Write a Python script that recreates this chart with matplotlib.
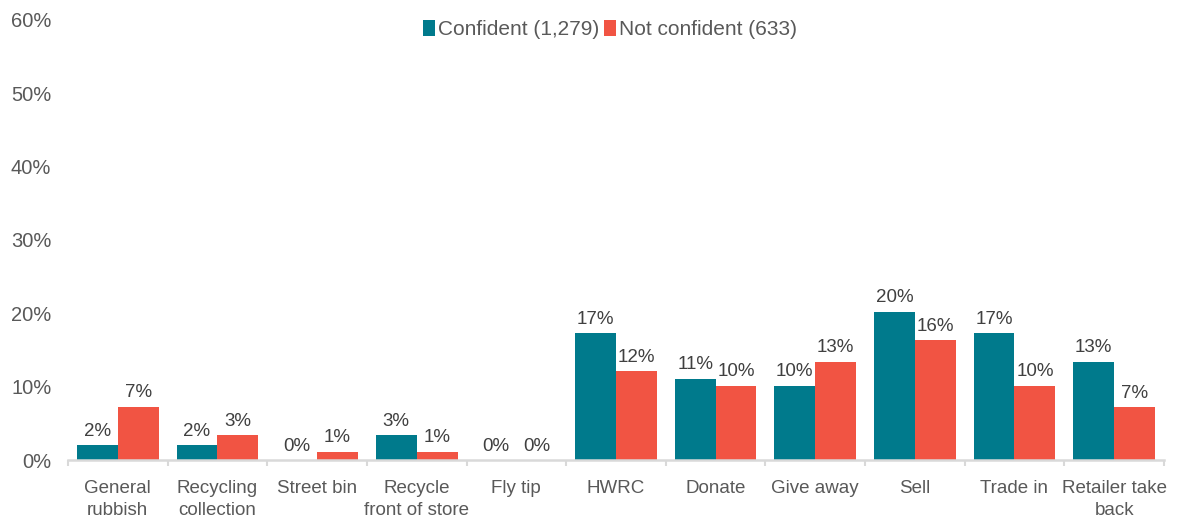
import numpy as np
import matplotlib
matplotlib.use("Agg")
import matplotlib.pyplot as plt

# --- Data ---
categories = [
    "General\nrubbish", "Recycling\ncollection", "Street bin",
    "Recycle\nfront of store", "Fly tip", "HWRC", "Donate",
    "Give away", "Sell", "Trade in", "Retailer take\nback",
]
confident = [2.0, 2.0, 0.0, 3.4, 0.0, 17.3, 11.1, 10.1, 20.2, 17.3, 13.4]
not_confident = [7.3, 3.4, 1.1, 1.1, 0.0, 12.1, 10.1, 13.4, 16.3, 10.1, 7.2]
series_names = ["Confident (1,279)", "Not confident (633)"]
y_ticks = [0, 10, 20, 30, 40, 50, 60]

# --- Style ---
TEAL = "#007A8C"
CORAL = "#F15443"
AXIS_GREY = "#D9D9D9"
TICK_TEXT = "#595959"
LABEL_TEXT = "#404040"
plt.rcParams["font.family"] = ["Liberation Sans", "DejaVu Sans"]

fig = plt.figure(figsize=(11.8, 5.24), dpi=100)
ax = fig.add_axes([0.0576, 0.122, 0.9288, 0.84])

x = np.arange(len(categories))
w = 0.41
b1 = ax.bar(x - w / 2, confident, w, color=TEAL, label=series_names[0])
b2 = ax.bar(x + w / 2, not_confident, w, color=CORAL, label=series_names[1])

# data labels
for bars, vals in ((b1, confident), (b2, not_confident)):
    for rect, v in zip(bars, vals):
        ax.annotate(f"{v:.0f}%", (rect.get_x() + rect.get_width() / 2, v),
                    xytext=(0, 4), textcoords="offset points",
                    ha="center", va="bottom", fontsize=13.5, color=LABEL_TEXT)

ax.set_xlim(-0.5, len(categories) - 0.5)
ax.set_ylim(0, 60)
ax.set_yticks(y_ticks)
ax.set_yticklabels([f"{t}%" for t in y_ticks])
ax.tick_params(axis="y", length=0, pad=12, labelsize=14.5, labelcolor=TICK_TEXT)

ax.set_xticks(x)
ax.set_xticklabels(categories, linespacing=1.4)
ax.tick_params(axis="x", which="major", length=0, pad=14, labelsize=13.5,
               labelcolor=TICK_TEXT)
# small separators between categories
ax.set_xticks(np.arange(-0.5, len(categories), 1.0), minor=True)
ax.tick_params(axis="x", which="minor", length=4, width=1.5, color=AXIS_GREY)

for side in ("left", "right", "top"):
    ax.spines[side].set_visible(False)
ax.spines["bottom"].set_color(AXIS_GREY)
ax.spines["bottom"].set_linewidth(1.8)

fig.legend(loc="center", bbox_to_anchor=(0.517, 0.943), ncol=2, frameon=False,
           fontsize=15, handlelength=0.6, handleheight=0.8, handletextpad=0.15,
           columnspacing=0.2, labelcolor=TICK_TEXT)

fig.savefig("out.png", dpi=100)
